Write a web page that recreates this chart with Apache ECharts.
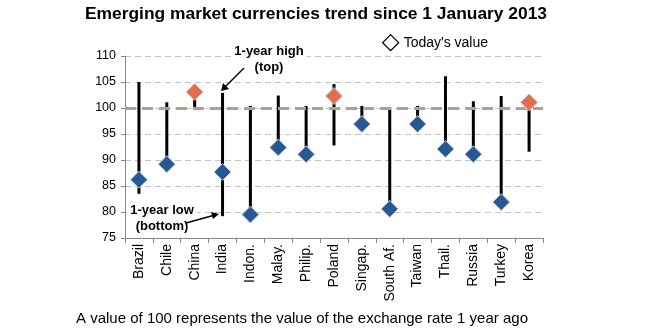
<!DOCTYPE html>
<html><head><meta charset="utf-8">
<script src="https://cdn.jsdelivr.net/npm/echarts@6/dist/echarts.min.js"></script>
<style>html,body{margin:0;padding:0;background:#fff}#c{width:645px;height:335px}</style>
</head><body><div id="c"></div>
<script>
var categories = ['Brazil','Chile','China','India','Indon.','Malay.','Philip.','Poland','Singap.','South Af.','Taiwan','Thail.','Russia','Turkey','Korea'];
var yearHigh = [105, 101.1, 103, 102.9, 100.4, 102.4, 100.4, 104.6, 100.4, 100.1, 100.4, 106.1, 101.3, 102.3, 101.1];
var yearLow = [83.5, 89.2, 100.2, 79.2, 79.3, 92.4, 91.1, 92.8, 96.9, 80.6, 96.9, 92.1, 91.1, 81.9, 91.6];
var todayValue = [86.2, 89.2, 103.1, 87.7, 79.5, 92.4, 91.1, 102.3, 96.9, 80.6, 96.9, 92.1, 91.1, 81.9, 101.1];
var yTicks = [75, 80, 85, 90, 95, 100, 105, 110];

var chart = echarts.init(document.getElementById('c'));
var FONT = '"Liberation Sans", Arial, sans-serif';
chart.setOption({
  animation: false,
  title: {
    text: 'Emerging market currencies trend since 1 January 2013',
    left: 80, top: 1,
    textStyle: {fontFamily: FONT, fontSize: 17.4, fontWeight: 'bold', color: '#000'}
  },
  legend: {
    left: 377, top: 29,
    itemWidth: 16, itemHeight: 16, itemGap: 6,
    textStyle: {fontFamily: FONT, fontSize: 14, color: '#000'},
    data: [{name: "Today's value", icon: 'diamond', itemStyle: {color: '#fff', borderColor: '#000', borderWidth: 1.3}}]
  },
  grid: {left: 125, right: 102, top: 56, bottom: 97},
  xAxis: {
    type: 'category', data: categories, boundaryGap: true,
    axisLine: {lineStyle: {color: '#888'}},
    axisTick: {show: true, length: 5, lineStyle: {color: '#888'}},
    axisLabel: {rotate: 90, fontFamily: FONT, fontSize: 14, color: '#000', margin: 6, interval: 0}
  },
  yAxis: {
    type: 'value', min: 75, max: 110, interval: 5,
    axisLine: {show: true, lineStyle: {color: '#888'}},
    axisTick: {show: true, length: 4, lineStyle: {color: '#888'}},
    axisLabel: {fontFamily: FONT, fontSize: 12.5, color: '#000', margin: 9,
      formatter: function (v) { return yTicks.indexOf(v) >= 0 ? String(v) : ''; }},
    splitLine: {lineStyle: {color: '#c4c4c4', type: [6, 4], width: 1}}
  },
  series: [
    {
      name: 'range', type: 'custom',
      data: categories.map(function (c, i) { return [i, yearLow[i], yearHigh[i]]; }),
      renderItem: function (params, api) {
        var p1 = api.coord([api.value(0), api.value(1)]);
        var p2 = api.coord([api.value(0), api.value(2)]);
        return {type: 'line', shape: {x1: p1[0], y1: p1[1], x2: p2[0], y2: p2[1]},
          style: {stroke: '#000', lineWidth: 3}};
      },
      z: 2
    },
    {
      name: "Today's value", type: 'scatter', symbol: 'diamond', symbolSize: 17,
      data: todayValue.map(function (v) {
        return {value: v, itemStyle: {color: v >= 100 ? '#e06d4c' : '#285891'}};
      }),
      itemStyle: {borderColor: '#c4d0e2', borderWidth: 1, opacity: 1},
      z: 4,
      markLine: {
        silent: true, symbol: 'none', label: {show: false},
        lineStyle: {color: '#b59e90', type: [11, 6], width: 3, opacity: 1},
        data: [{yAxis: 100}],
        z: 3
      }
    }
  ],
  graphic: [
    {type: 'text', z: 10, x: 269, y: 43,
      style: {text: '1-year high\n(top)', align: 'center', verticalAlign: 'top', fontFamily: FONT, fontSize: 13, fontWeight: 'bold',
        fill: '#000', lineHeight: 16, backgroundColor: '#fff', padding: [0, 3]}},
    {type: 'line', z: 10, shape: {x1: 244, y1: 68, x2: 223, y2: 89}, style: {stroke: '#000', lineWidth: 1.5}},
    {type: 'polygon', z: 10, shape: {points: [[221, 91], [223, 83], [229, 89]]}, style: {fill: '#000'}},
    {type: 'text', z: 10, x: 162, y: 202,
      style: {text: '1-year low\n(bottom)', align: 'center', verticalAlign: 'top', fontFamily: FONT, fontSize: 13, fontWeight: 'bold',
        fill: '#000', lineHeight: 16, backgroundColor: '#fff', padding: [0, 3]}},
    {type: 'line', z: 10, shape: {x1: 186, y1: 223, x2: 215, y2: 215}, style: {stroke: '#000', lineWidth: 1.5}},
    {type: 'polygon', z: 10, shape: {points: [[219, 214], [211, 212], [213, 219]]}, style: {fill: '#000'}},
    {type: 'text', z: 10, x: 302, y: 311,
      style: {text: 'A value of 100 represents the value of the exchange rate 1 year ago', align: 'center', verticalAlign: 'top', fontFamily: FONT, fontSize: 15, fill: '#000'}}
  ]
});
</script></body></html>
